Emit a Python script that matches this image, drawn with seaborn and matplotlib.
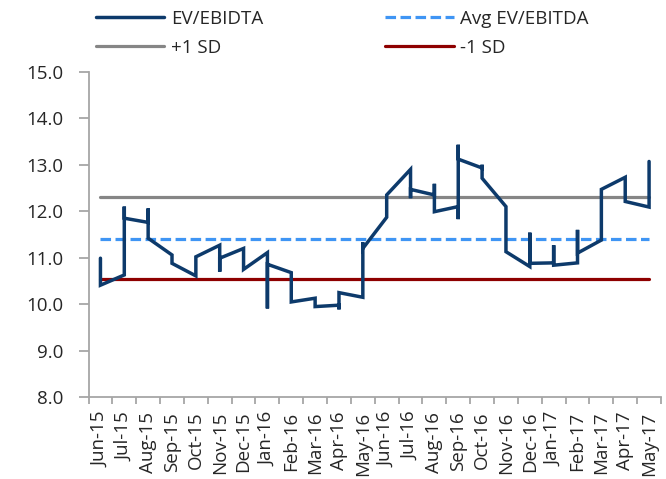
import matplotlib
matplotlib.use("Agg")
import matplotlib.pyplot as plt
import numpy as np
import pandas as pd
import seaborn as sns

# Month categories on the x axis
months = ["Jun-15", "Jul-15", "Aug-15", "Sep-15", "Oct-15", "Nov-15", "Dec-15",
          "Jan-16", "Feb-16", "Mar-16", "Apr-16", "May-16", "Jun-16", "Jul-16",
          "Aug-16", "Sep-16", "Oct-16", "Nov-16", "Dec-16", "Jan-17", "Feb-17",
          "Mar-17", "Apr-17", "May-17"]

# EV/EBITDA readings in order; every reading is plotted at its month position
ev_month = [0, 0,
            1, 1, 1,
            2, 2, 2,
            3, 3,
            4, 4,
            5, 5, 5,
            6, 6,
            7, 7, 7,
            8, 8,
            9, 9,
            10, 10, 10,
            11, 11, 11,
            12, 12,
            13, 13, 13,
            14, 14, 14,
            15, 15, 15, 15,
            16, 16, 16,
            17, 17,
            18, 18, 18,
            19, 19, 19,
            20, 20, 20,
            21, 21,
            22, 22,
            23, 23]
ev_value = [10.99, 10.41,
            10.63, 12.10, 11.85,
            11.76, 12.06, 11.42,
            11.06, 10.88,
            10.61, 11.02,
            11.27, 10.70, 10.99,
            11.20, 10.75,
            11.11, 9.91, 10.86,
            10.68, 10.05,
            10.13, 9.95,
            9.98, 9.89, 10.25,
            10.15, 11.33, 11.20,
            11.87, 12.35,
            12.90, 12.28, 12.47,
            12.35, 12.59, 11.99,
            12.10, 11.83, 13.43, 13.12,
            12.93, 13.00, 12.71,
            12.10, 11.13,
            10.81, 11.54, 10.88,
            10.89, 11.27, 10.84,
            10.89, 11.60, 11.10,
            11.38, 12.47,
            12.73, 12.21,
            12.09, 13.07]

# Reference levels
avg_level = 11.40
plus_sd = 12.30
minus_sd = 10.55

y_ticks = [8.0, 9.0, 10.0, 11.0, 12.0, 13.0, 14.0, 15.0]

sns.set_style("white")
plt.rcParams["font.family"] = ["Open Sans", "DejaVu Sans"]
fs = 13.5

fig = plt.figure(figsize=(6.66, 4.79), dpi=100)
ax = fig.add_axes([0.1329, 0.1706, 0.8596, 0.6797])

ev_df = pd.DataFrame({"month": ev_month, "value": ev_value})
span = [0, len(months) - 1]
levels_df = pd.DataFrame({
    "month": span * 3,
    "value": [plus_sd] * 2 + [avg_level] * 2 + [minus_sd] * 2,
    "series": ["+1 SD"] * 2 + ["Avg EV/EBITDA"] * 2 + ["-1 SD"] * 2,
})

lw = 2.3
sns.lineplot(data=levels_df[levels_df.series == "+1 SD"], x="month", y="value",
             color="#868686", lw=lw, ax=ax, label="+1 SD", estimator=None)
sns.lineplot(data=levels_df[levels_df.series == "-1 SD"], x="month", y="value",
             color="#8E0000", lw=lw, ax=ax, label="-1 SD", estimator=None)
sns.lineplot(data=levels_df[levels_df.series == "Avg EV/EBITDA"], x="month", y="value",
             color="#3F95F4", lw=lw, ax=ax, label="Avg EV/EBITDA", estimator=None,
             linestyle=(0, (3.3, 1.4)))
sns.lineplot(data=ev_df, x="month", y="value", sort=False, estimator=None,
             color="#0D3A6B", lw=2.5, ax=ax, label="EV/EBIDTA",
             solid_joinstyle="miter")

ax.set_xlim(-0.5, len(months) - 0.5)
ax.set_ylim(8.0, 15.0)
ax.set_yticks(y_ticks)
ax.set_yticklabels([f"{v:.1f}" for v in y_ticks], fontsize=fs)

ax.set_xticks(np.arange(-0.5, len(months), 1.0))
ax.set_xticklabels([])
ax.set_xticks(np.arange(len(months)), minor=True)
ax.set_xticklabels(months, minor=True, rotation=90, fontsize=fs)
ax.tick_params(axis="x", which="major", direction="out", length=5, width=1.3,
               color="#A6A6A6", bottom=True)
ax.tick_params(axis="x", which="minor", length=0, pad=10.5, bottom=True)
ax.tick_params(axis="y", direction="out", length=7, width=1.3, color="#A6A6A6",
               pad=11, left=True)
ax.set_xlabel("")
ax.set_ylabel("")

for side in ["top", "right"]:
    ax.spines[side].set_visible(False)
for side in ["left", "bottom"]:
    ax.spines[side].set_color("#A6A6A6")
    ax.spines[side].set_linewidth(1.3)

handles, labels = ax.get_legend_handles_labels()
order = [labels.index(n) for n in ["EV/EBIDTA", "+1 SD", "Avg EV/EBITDA", "-1 SD"]]
ax.legend([handles[i] for i in order], [labels[i] for i in order],
          ncol=2, loc="upper left", frameon=False, fontsize=fs,
          handlelength=3.65, handletextpad=0.37, columnspacing=6.5,
          labelspacing=0.6, borderaxespad=0.0, borderpad=0.3)
leg = ax.get_legend()
leg.set_bbox_to_anchor((90 / 666, 1 - 4 / 479), transform=fig.transFigure)

fig.savefig("out.png", dpi=100)
